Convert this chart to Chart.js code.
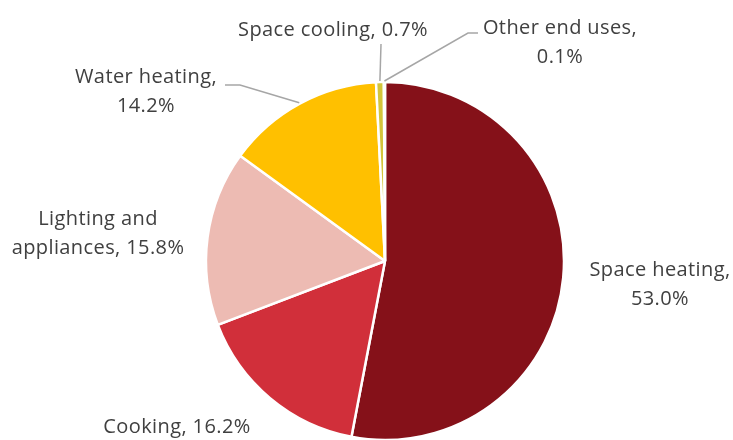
<!DOCTYPE html>
<html lang="en">
<head>
    <meta charset="UTF-8">
    <title>Residential energy end uses</title>
    <script src="https://cdn.jsdelivr.net/npm/chart.js"></script>
    <style>
        html, body {
            margin: 0;
            padding: 0;
            background: #fff;
        }
        #chartBox {
            width: 733px;
            height: 440px;
        }
    </style>
</head>
<body>
    <div id="chartBox">
        <canvas id="pieChart" width="733" height="440"></canvas>
    </div>

    <script>
        // Data
        const categories = ['Space heating', 'Cooking', 'Lighting and appliances', 'Water heating', 'Space cooling', 'Other end uses'];
        const shares = [53.0, 16.2, 15.8, 14.2, 0.7, 0.1];

        const sliceColors = ['#851119', '#D12F3A', '#EDBBB3', '#FFC000', '#D3C53B', '#BFBFBF'];

        // Label text lines and where to put them (canvas px); leader = [start, elbow] or null
        const labelLines = [
            ['Space heating,', '53.0%'],
            ['Cooking, 16.2%'],
            ['Lighting and', 'appliances, 15.8%'],
            ['Water heating,', '14.2%'],
            ['Space cooling, 0.7%'],
            ['Other end uses,', '0.1%']
        ];
        const labelPos = [
            [660, 270], [177, 427], [98, 219], [146, 77], [333, 30], [560, 28]
        ];
        const leaders = [
            null, null, null,
            [[225, 85], [240, 85]],
            [[381, 44], [381, 44]],
            [[478, 33], [468, 33]]
        ];

        const lineHeight = 29;

        const pieLabels = {
            id: 'pieLabels',
            afterDatasetsDraw(chart) {
                const ctx = chart.ctx;
                const arcs = chart.getDatasetMeta(0).data;
                ctx.save();

                // leader lines to the outer edge of each slice
                ctx.strokeStyle = '#A6A6A6';
                ctx.lineWidth = 1.5;
                arcs.forEach((arc, i) => {
                    if (!leaders[i]) return;
                    const mid = (arc.startAngle + arc.endAngle) / 2;
                    const ex = arc.x + Math.cos(mid) * (arc.outerRadius + 1);
                    const ey = arc.y + Math.sin(mid) * (arc.outerRadius + 1);
                    ctx.beginPath();
                    ctx.moveTo(leaders[i][0][0], leaders[i][0][1]);
                    ctx.lineTo(leaders[i][1][0], leaders[i][1][1]);
                    ctx.lineTo(ex, ey);
                    ctx.stroke();
                });

                ctx.fillStyle = '#404040';
                ctx.font = '20px "Open Sans", sans-serif';
                ctx.letterSpacing = '0.4px';
                ctx.textAlign = 'center';
                ctx.textBaseline = 'middle';
                labelLines.forEach((lines, i) => {
                    lines.forEach((txt, j) => {
                        ctx.fillText(txt, labelPos[i][0], labelPos[i][1] + j * lineHeight);
                    });
                });
                ctx.restore();
            }
        };

        new Chart(document.getElementById('pieChart'), {
            type: 'pie',
            data: {
                labels: categories,
                datasets: [{
                    data: shares,
                    backgroundColor: sliceColors,
                    borderColor: '#ffffff',
                    borderWidth: 2.5,
                    radius: 179
                }]
            },
            options: {
                responsive: false,
                animation: false,
                layout: {
                    padding: { top: 82, bottom: 0, left: 37, right: 0 }
                },
                plugins: {
                    legend: { display: false },
                    tooltip: { enabled: false }
                }
            },
            plugins: [pieLabels]
        });
    </script>
</body>
</html>
